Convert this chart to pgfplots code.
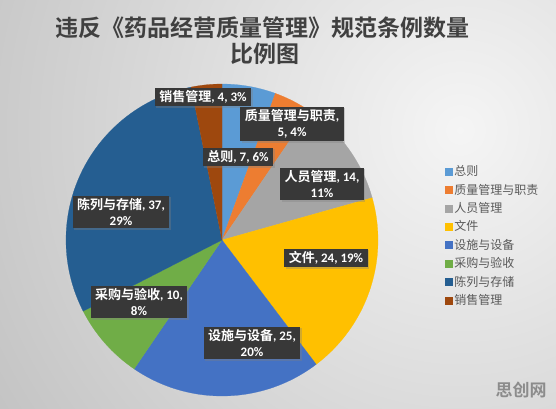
\documentclass[border=0pt]{standalone}
\usepackage{fontspec}
\setmainfont{Carlito}
\newfontfamily\cjk{Noto Sans CJK SC}[BoldFont={Noto Sans CJK SC Bold}]
\usepackage{pgfplots}
\pgfplotsset{compat=1.18}
\usetikzlibrary{shadows}
\definecolor{cA}{HTML}{5B9BD5}
\definecolor{cB}{HTML}{ED7D31}
\definecolor{cC}{HTML}{A5A5A5}
\definecolor{cD}{HTML}{FFC000}
\definecolor{cE}{HTML}{4472C4}
\definecolor{cF}{HTML}{70AD47}
\definecolor{cG}{HTML}{255E91}
\definecolor{cH}{HTML}{9E480E}
\definecolor{titlegray}{HTML}{404040}
\definecolor{leggray}{HTML}{595959}
\definecolor{boxgray}{HTML}{383838}
% total of all values
\newcommand{\total}{126}
% \slice{colour}{sum of values before}{value}
\newcommand{\slice}[3]{%
  \addplot[fill=#1, draw=#1, line width=0.2pt, samples=90, variable=\t,
    domain=90-360*(#2+#3)/\total:90-360*#2/\total]
    ({222+156*cos(\t)},{168+156*sin(\t)}) -- (222,168) -- cycle;}
\tikzset{lab/.style={fill=boxgray, text=white, font=\bfseries\fontsize{13}{15.5}\selectfont,
   align=center, inner xsep=4.5pt, inner ysep=3pt,
   drop shadow={opacity=0.35, shadow xshift=1.5pt, shadow yshift=-1.5pt}}}
\begin{document}
\begin{tikzpicture}
\begin{axis}[
  width=556pt, height=408pt, scale only axis,
  xmin=0, xmax=556, ymin=0, ymax=408,
  hide axis,
  legend style={at={(axis cs:445,246)}, anchor=north west, draw=none, fill=none,
    font=\cjk\fontsize{12}{14}\selectfont, text=leggray,
    row sep=0pt, inner sep=0pt,
    nodes={minimum height=18.4pt, inner ysep=0pt, inner xsep=2pt}},
  legend cell align=left,
  legend image code/.code={\fill[#1] (0pt,-3.5pt) rectangle (7pt,3.5pt);},
]
\shade[inner color=white!96!black, outer color=white!76!black]
  (axis cs:460,278) circle [radius=560pt];

\slice{cA}{0}{7}    \addlegendentry{总则}
\slice{cB}{7}{5}    \addlegendentry{质量管理与职责}
\slice{cC}{12}{14}  \addlegendentry{人员管理}
\slice{cD}{26}{24}  \addlegendentry{文件}
\slice{cE}{50}{25}  \addlegendentry{设施与设备}
\slice{cF}{75}{10}  \addlegendentry{采购与验收}
\slice{cG}{85}{37}  \addlegendentry{陈列与存储}
\slice{cH}{122}{4}  \addlegendentry{销售管理}

\node[lab] at (axis cs:203,311) {{\cjk 销售管理}, 4, 3\%};
\node[lab] at (axis cs:292,284) {{\cjk 质量管理与职责}, \\ 5, 4\%};
\node[lab] at (axis cs:238,251) {{\cjk 总则}, 7, 6\%};
\node[lab] at (axis cs:322,224) {{\cjk 人员管理}, 14, \\ 11\%};
\node[lab] at (axis cs:326,150) {{\cjk 文件}, 24, 19\%};
\node[lab] at (axis cs:252,65) {{\cjk 设施与设备}, 25, \\ 20\%};
\node[lab] at (axis cs:139,106) {{\cjk 采购与验收}, 10, \\ 8\%};
\node[lab] at (axis cs:121,196) {{\cjk 陈列与存储}, 37, \\ 29\%};

\node[text=titlegray, font=\cjk\bfseries\fontsize{23}{28}\selectfont] at (axis cs:262,380.5) {违反《药品经营质量管理》规范条例数量};
\node[text=titlegray, font=\cjk\bfseries\fontsize{23}{28}\selectfont] at (axis cs:265,354.5) {比例图};
\node[text=white!55!black, font=\cjk\bfseries\fontsize{17}{20}\selectfont] at (axis cs:521,18) {思创网};
\end{axis}
\end{tikzpicture}
\end{document}
